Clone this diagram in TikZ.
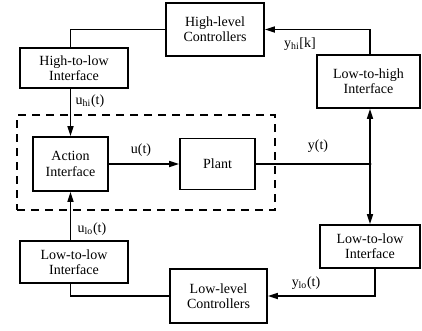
\documentclass[tikz,border=0pt]{standalone}
\usepackage{fontspec}
\setmainfont{Liberation Serif}
\usetikzlibrary{arrows.meta}
\begin{document}
\begin{tikzpicture}[
        x=0.75pt, y=-0.75pt,
        font=\fontsize{10.5}{11.5}\selectfont,
        block/.style={rectangle, draw, line width=1.2pt, align=center, inner sep=0pt},
        line/.style={draw, line width=1.2pt, -{Triangle[length=7.5pt,width=4.5pt]}},
        wire/.style={draw, line width=1.2pt},
        lbl/.style={inner sep=1pt}
    ]
        \useasboundingbox (0,0) rectangle (422,330);

        \node [block, minimum width=73.5pt, minimum height=39.75pt] (hlc) at (215,29.5) {High-level\\Controllers};
        \node [block, minimum width=81pt, minimum height=30pt] (h2l) at (74,68) {High-to-low\\Interface};
        \node [block, minimum width=77.25pt, minimum height=39.75pt] (l2h) at (368.5,81.5) {Low-to-high\\Interface};
        \node [block, minimum width=56.25pt, minimum height=40.5pt] (act) at (70.5,164) {Action\\Interface};
        \node [block, minimum width=56.25pt, minimum height=38.25pt] (plant) at (217.5,164) {Plant};
        \node [block, minimum width=75pt, minimum height=32.25pt] (l2lr) at (370,246.5) {Low-to-low\\Interface};
        \node [block, minimum width=72.75pt, minimum height=40.5pt] (llc) at (218.5,296) {Low-level\\Controllers};
        \node [block, minimum width=81pt, minimum height=31.5pt] (l2ll) at (74,262) {Low-to-low\\Interface};
        \node [draw, dashed, dash pattern=on 6pt off 4.5pt, line width=1.2pt, minimum width=193.5pt, minimum height=71.25pt, inner sep=0pt] (loop) at (146,162.5) {};

        \coordinate (jn) at (370,164);

        \path [wire] (h2l.north -| act.north) |- (hlc.west);
        \path [line] (h2l.south -| act.north) -- (act.north);
        \path [line] (l2h.north -| jn) |- (hlc.east);
        \path [line] (act.east) -- (plant.west);
        \path [wire] (plant.east) -- (jn);
        \fill (jn) circle (1.3pt);
        \path [line] (jn) -- (jn |- l2h.south);
        \path [line] (jn) -- (jn |- l2lr.north);
        \path [line] ([xshift=3.75pt]l2lr.south) |- (llc.east);
        \path [wire] (l2ll.south -| act.south) |- (llc.west);
        \path [line] (l2ll.north -| act.south) -- (act.south);

        \node [lbl] (uhi) at (90,101) {u\textsubscript{hi}(t)};
        \node [lbl] (yhi) at (300,44) {y\textsubscript{hi}[k]};
        \node [lbl] (ut) at (141,150) {u(t)};
        \node [lbl] (yt) at (318,146) {y(t)};
        \node [lbl] (ulo) at (92,229) {u\textsubscript{lo}(t)};
        \node [lbl] (ylo) at (306,283) {y\textsubscript{lo}(t)};
    \end{tikzpicture}
\end{document}
